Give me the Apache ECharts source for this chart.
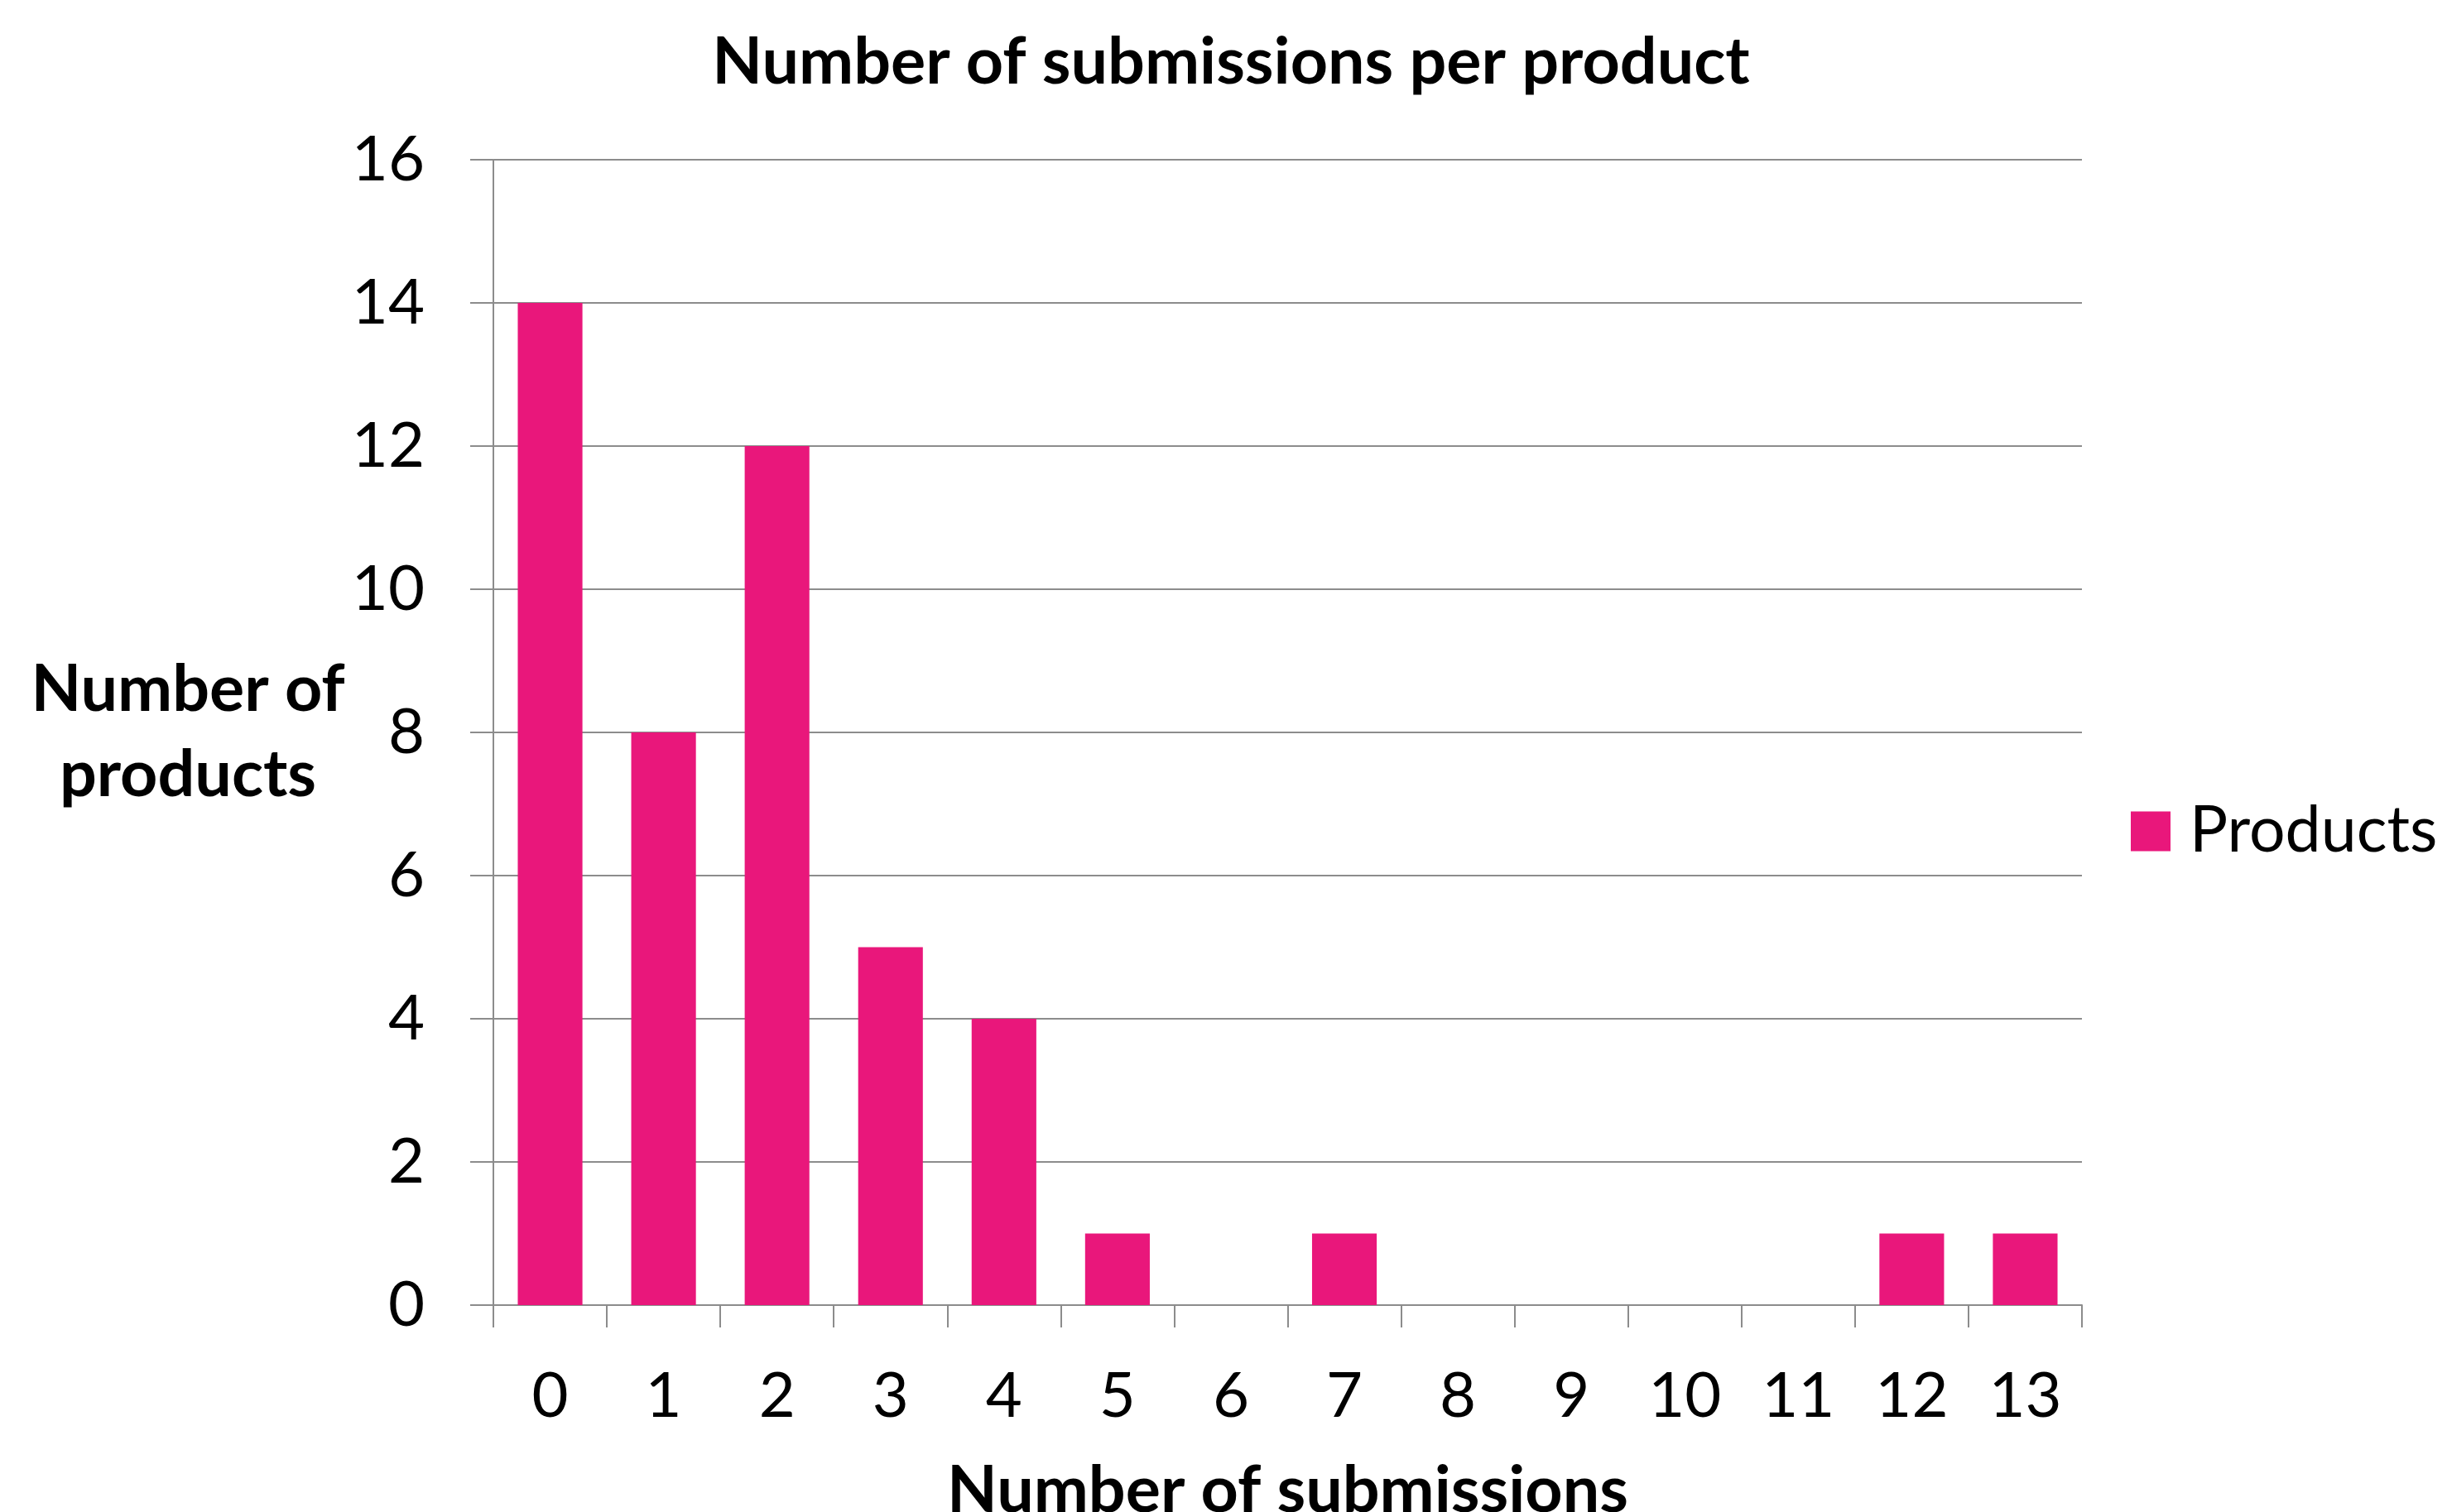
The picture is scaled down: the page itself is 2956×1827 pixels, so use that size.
<!DOCTYPE html>
<html>
<head>
<meta charset="utf-8">
<script src="https://cdn.jsdelivr.net/npm/echarts@6/dist/echarts.min.js"></script>
<style>
html,body{margin:0;padding:0;background:#fff;}
#chart{width:2956px;height:1827px;}
</style>
</head>
<body>
<div id="chart"></div>
<script>
const categories = ['0','1','2','3','4','5','6','7','8','9','10','11','12','13'];
const products = [14, 8, 12, 5, 4, 1, 0, 1, 0, 0, 0, 0, 1, 1];
const yTicks = [0, 2, 4, 6, 8, 10, 12, 14, 16];

const FONT = 'Lato';
const GRAY = '#8c8c8c';
const chart = echarts.init(document.getElementById('chart'));
chart.setOption({
  backgroundColor: '#ffffff',
  animation: false,
  textStyle: { fontFamily: FONT },
  title: {
    text: 'Number of submissions per product',
    left: 1487,
    textAlign: 'center',
    top: 36,
    padding: 0,
    textStyle: { fontFamily: FONT, fontWeight: 'bold', fontSize: 79, color: '#000' }
  },
  legend: {
    left: 2574,
    top: 966,
    padding: 0,
    itemWidth: 48,
    itemHeight: 48,
    icon: 'rect',
    data: ['Products'],
    textStyle: { fontFamily: FONT, fontSize: 77, color: '#000', padding: [0, 0, 0, 18] }
  },
  grid: { left: 596, right: 441, top: 193, bottom: 250, containLabel: false, outerBoundsMode: 'none' },
  xAxis: {
    type: 'category',
    data: categories,
    name: 'Number of submissions',
    nameLocation: 'middle',
    nameGap: 185,
    nameTextStyle: { fontFamily: FONT, fontWeight: 'bold', fontSize: 79, color: '#000' },
    axisLine: { show: true, lineStyle: { color: GRAY, width: 2 } },
    axisTick: { show: true, length: 27, lineStyle: { color: GRAY, width: 2 } },
    axisLabel: { margin: 72, fontFamily: FONT, fontSize: 76, color: '#000' },
    splitLine: { show: false }
  },
  yAxis: {
    type: 'value',
    min: yTicks[0],
    max: yTicks[yTicks.length - 1],
    interval: yTicks[1] - yTicks[0],
    name: 'Number of\nproducts',
    nameLocation: 'middle',
    nameRotate: 0,
    nameGap: 369,
    nameTextStyle: { fontFamily: FONT, fontWeight: 'bold', fontSize: 79, color: '#000', align: 'center', verticalAlign: 'middle', lineHeight: 103, padding: [18, 0, 0, 0] },
    axisLine: { show: true, lineStyle: { color: GRAY, width: 2 } },
    axisTick: { show: true, length: 28, lineStyle: { color: GRAY, width: 2 } },
    axisLabel: { margin: 83, fontFamily: FONT, fontSize: 76, color: '#000', padding: [6, 0, 0, 0] },
    splitLine: { show: true, lineStyle: { color: GRAY, width: 2 } }
  },
  series: [{
    name: 'Products',
    type: 'bar',
    data: products,
    barWidth: '57%',
    itemStyle: { color: '#E9177B' }
  }]
});
</script>
</body>
</html>
